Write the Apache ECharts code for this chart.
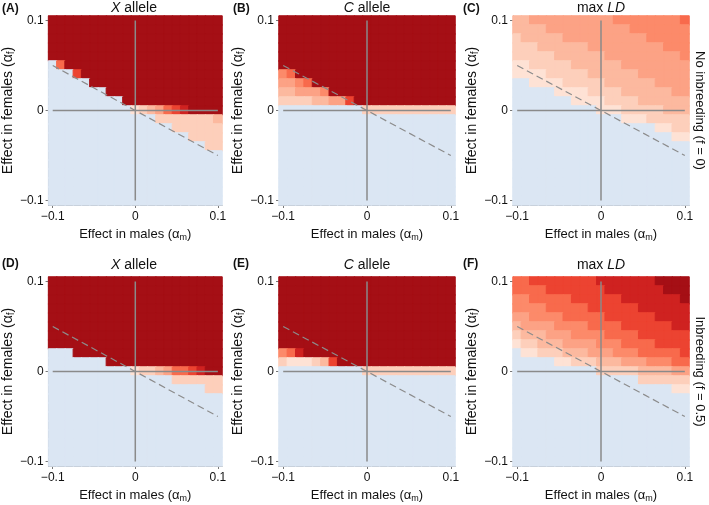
<!DOCTYPE html>
<html>
<head>
<meta charset="utf-8">
<title>X allele, C allele and max LD</title>
<script src="https://cdn.jsdelivr.net/npm/echarts@6/dist/echarts.min.js"></script>
<style>
html, body { margin: 0; padding: 0; background: #fff; }
#chart { width: 709px; height: 505px; }
</style>
</head>
<body>
<div id="chart"></div>
<script>
// effect size steps, same on both axes (alpha_m along x, alpha_f along y)
const alphaSteps = ['-0.1','-0.09','-0.08','-0.07','-0.06','-0.05','-0.04','-0.03','-0.02','-0.01','0',
                    '0.01','0.02','0.03','0.04','0.05','0.06','0.07','0.08','0.09','0.1'];
const tickLabels = { '-0.1': '\u22120.1', '0': '0', '0.1': '0.1' };

// colour class of every cell, one string per row, first row is alpha_f = 0.1
// 0 = blue, 1..9 = pale to dark red
const levelColours = ['#dbe6f3','#fee2d5','#fdcfbb','#fcb99f','#fca285','#fc8a6a','#f86a4c','#ec4331','#cf2220','#a50f15'];

const xAlleleOutbred = [
  '999999999999999999999','999999999999999999999','999999999999999999999','999999999999999999999','999999999999999999999',
  '069999999999999999999','000799999999999999999','000009999999999999999','000000099999999999999','000000000999999999999',
  '000000000012346789999','000000000000022222223','000000000000000222222','000000000000000002222','000000000000000000022',
  '000000000000000000000','000000000000000000000','000000000000000000000','000000000000000000000','000000000000000000000',
  '000000000000000000000'
];
const cAlleleOutbred = [
  '999999999999999999999','999999999999999999999','999999999999999999999','999999999999999999999','999999999999999999999',
  '999999999999999999999','569999999999999999999','445699999999999999999','334445999999999999999','222233447999999999999',
  '000000000022222222222','000000000000000000000','000000000000000000000','000000000000000000000','000000000000000000000',
  '000000000000000000000','000000000000000000000','000000000000000000000','000000000000000000000','000000000000000000000',
  '000000000000000000000'
];
const maxLdOutbred = [
  '334444444444555555556','333344444444445555555','233333444444444455555','222333333444444444555','222223333334444444445',
  '112222233333344444444','111122222333333444444','001111222223333334444','000001111222233333344','000000011112222333333',
  '000000000011122222333','000000000000011122222','000000000000000001122','000000000000000000011','000000000000000000000',
  '000000000000000000000','000000000000000000000','000000000000000000000','000000000000000000000','000000000000000000000',
  '000000000000000000000'
];
const xAlleleInbred = [
  '999999999999999999999','999999999999999999999','999999999999999999999','999999999999999999999','999999999999999999999',
  '999999999999999999999','999999999999999999999','999999999999999999999','000999999999999999999','000000099999999999999',
  '000000000012234667899','000000000000000222222','000000000000000000022','000000000000000000000','000000000000000000000',
  '000000000000000000000','000000000000000000000','000000000000000000000','000000000000000000000','000000000000000000000',
  '000000000000000000000'
];
const cAlleleInbred = [
  '999999999999999999999','999999999999999999999','999999999999999999999','999999999999999999999','999999999999999999999',
  '999999999999999999999','999999999999999999999','999999999999999999999','568999999999999999999','211123799999999999999',
  '000000000022222222222','000000000000000000000','000000000000000000000','000000000000000000000','000000000000000000000',
  '000000000000000000000','000000000000000000000','000000000000000000000','000000000000000000000','000000000000000000000',
  '000000000000000000000'
];
const maxLdInbred = [
  '667777777788888889999','666677777778888888999','556666677777788888889','555566666777777888888','445555666667777778888',
  '344445555666677777788','233344455556666777777','122333444455566667777','011222333444555666667','000001122233344455566',
  '000000000022222333344','000000000000000222222','000000000000000000011','000000000000000000000','000000000000000000000',
  '000000000000000000000','000000000000000000000','000000000000000000000','000000000000000000000','000000000000000000000',
  '000000000000000000000'
];

const panelCells = [xAlleleOutbred, cAlleleOutbred, maxLdOutbred, xAlleleInbred, cAlleleInbred, maxLdInbred];
const panelTitles = ['{i|X} allele', '{i|C} allele', 'max {i|LD}', '{i|X} allele', '{i|C} allele', 'max {i|LD}'];
const panelLetters = ['(A)', '(B)', '(C)', '(D)', '(E)', '(F)'];
const rowLabels = ['No inbreeding (f = 0)', 'Inbreeding (f = 0.5)'];

// reference lines: the two zero axes and the dashed line alpha_f = -alpha_m / 2
const zeroHorizontal = [['-0.1', '0'], ['0.1', '0']];
const zeroVertical = [['0', '-0.1'], ['0', '0.1']];
const balanceLine = [['-0.1', '0.05'], ['0.1', '-0.05']];

const FONT = '"Liberation Sans", Arial, sans-serif';
const gridLefts = [46, 279, 513];
const letterLefts = [2, 233, 463];
const gridTops = [16, 277];
const gridW = 176, gridH = 189;

const chart = echarts.init(document.getElementById('chart'));

const grids = [], xAxes = [], yAxes = [], series = [], graphics = [];

function catAxis(i, isX) {
  const nameSize = isX ? 13 : 14;
  return {
    type: 'category',
    gridIndex: i,
    data: alphaSteps,
    boundaryGap: true,
    axisLine: { show: true, lineStyle: { color: '#777', width: 1 } },
    axisTick: { show: true, interval: 9, alignWithLabel: true, length: 3, lineStyle: { color: '#777' } },
    axisLabel: {
      interval: 9, fontSize: 12, fontFamily: FONT, color: '#111', margin: isX ? 6 : 5,
      formatter: v => (tickLabels[v] !== undefined ? tickLabels[v] : v)
    },
    splitLine: { show: false },
    name: isX ? 'Effect in males (\u03b1{sub|m})' : 'Effect in females (\u03b1{sub|f})',
    nameLocation: 'middle',
    nameGap: isX ? 22 : 30,
    nameRotate: isX ? 0 : 90,
    nameTextStyle: {
      fontSize: nameSize, fontFamily: FONT, color: '#111',
      rich: { sub: { fontSize: nameSize - 4, fontFamily: FONT, color: '#111', padding: [6, 0, 0, 0] } }
    }
  };
}

panelCells.forEach((cells, i) => {
  const col = i % 3, row = Math.floor(i / 3);
  const left = gridLefts[col], top = gridTops[row];
  grids.push({ left: left, top: top, width: gridW, height: gridH });
  xAxes.push(catAxis(i, true));
  yAxes.push(catAxis(i, false));

  const data = [];
  cells.forEach((line, r) => {
    for (let c = 0; c < line.length; c++) {
      const level = Number(line[c]);
      const colour = levelColours[level];
      // a border of the same colour closes the sub-pixel seams between cells
      data.push({
        value: [c, cells.length - 1 - r, level],
        itemStyle: { color: colour, borderColor: colour, borderWidth: 1 }
      });
    }
  });
  series.push({
    type: 'heatmap', xAxisIndex: i, yAxisIndex: i, data: data,
    emphasis: { disabled: true }, silent: true, z: 1
  });
  [zeroHorizontal, zeroVertical].forEach(seg => {
    series.push({
      type: 'line', xAxisIndex: i, yAxisIndex: i, data: seg, symbol: 'none', silent: true, z: 3,
      lineStyle: { color: '#8a8a8a', width: 1.5 }
    });
  });
  series.push({
    type: 'line', xAxisIndex: i, yAxisIndex: i, data: balanceLine, symbol: 'none', silent: true, z: 3,
    lineStyle: { color: '#8c8c8c', width: 1.2, type: [7, 4] }
  });

  graphics.push({
    type: 'text', x: left + gridW / 2, y: row === 0 ? 8 : 265,
    style: {
      text: panelTitles[i], fontSize: 14, fontFamily: FONT, fill: '#111', align: 'center', verticalAlign: 'middle',
      rich: { i: { fontSize: 14, fontFamily: FONT, fontStyle: 'italic', color: '#111' } }
    }
  });
  graphics.push({
    type: 'text', x: letterLefts[col], y: row === 0 ? 9 : 264,
    style: { text: panelLetters[i], fontSize: 12, fontWeight: 'bold', fontFamily: FONT, fill: '#111', verticalAlign: 'middle' }
  });
});

rowLabels.forEach((lab, row) => {
  graphics.push({
    type: 'text', x: 700, y: gridTops[row] + gridH / 2, rotation: -Math.PI / 2,
    style: { text: lab, fontSize: 13, fontFamily: FONT, fill: '#111', align: 'center', verticalAlign: 'middle' }
  });
});

chart.setOption({
  animation: false,
  backgroundColor: '#fff',
  grid: grids,
  xAxis: xAxes,
  yAxis: yAxes,
  graphic: graphics,
  series: series
});
</script>
</body>
</html>
